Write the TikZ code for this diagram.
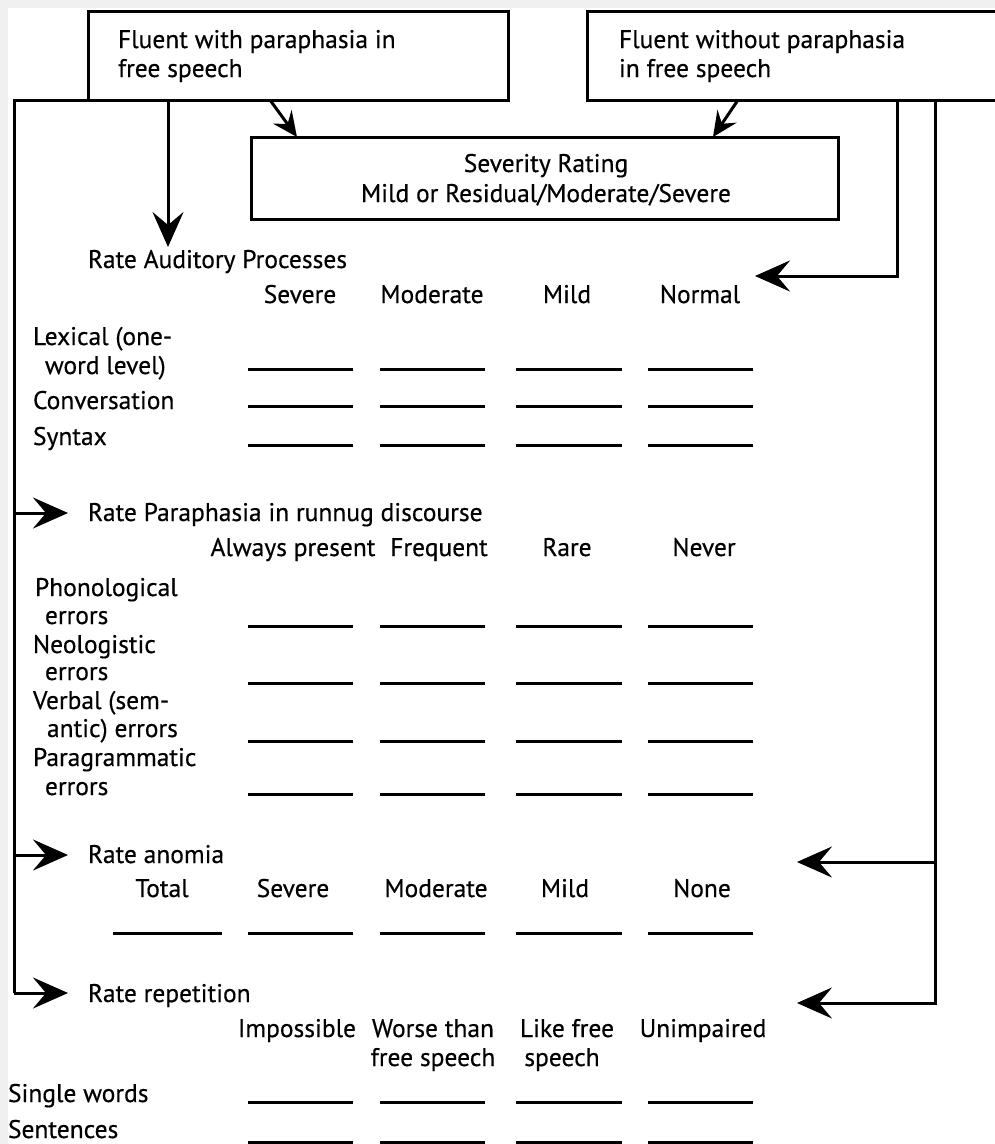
\documentclass[tikz,border=0pt]{standalone}
\usepackage{fontspec}
\setmainfont{PT Sans}[FakeBold=0.4]
\usetikzlibrary{arrows.meta}
\begin{document}
\begin{tikzpicture}[x=1pt,y=-1pt,
  every node/.style={inner sep=0pt, outer sep=0pt, font=\fontsize{25.5}{29}\selectfont},
  wire/.style={line width=3pt},
  bigarrow/.style={wire, -{Stealth[length=35pt,width=31pt,inset=13pt]}},
  smallarrow/.style={wire, -{Stealth[length=25pt,width=23pt,inset=9pt]}},
  blankline/.style={line width=3pt},
  frame/.style={draw, line width=3pt, anchor=north west},
  lbl/.style={anchor=base west},
  hdr/.style={anchor=base}]

% page background and frame of the sheet
\fill[black!6] (0,0) rectangle (995,1144);
\fill[white] (8,8) rectangle (995,1144);
\useasboundingbox (0,0) rectangle (995,1144);
\clip (0,0) rectangle (995,1144);

% ---------- boxes ----------
\node[frame, minimum width=420pt, minimum height=89pt] (withpar) at (88,11) {};
\node[frame, minimum width=430pt, minimum height=89pt] (withoutpar) at (587,11) {};
\node[frame, minimum width=587pt, minimum height=82pt] (severity) at (251,137) {};

\node[lbl] (wp1) at (118,48) {Fluent with paraphasia in};
\node[lbl] (wp2) at (118,77) {free speech};
\node[lbl] (wo1) at (619,48) {Fluent without paraphasia};
\node[lbl] (wo2) at (619,77) {in free speech};
\node[hdr] (sv1) at (546,172) {Severity Rating};
\node[hdr] (sv2) at (546,202) {Mild or Residual/Moderate/Severe};

% ---------- section titles ----------
\node[lbl] (tAud) at (88,268) {Rate Auditory Processes};
\node[lbl] (tPar) at (88,521) {Rate Paraphasia in runnug discourse};
\node[lbl] (tAno) at (88,863) {Rate anomia};
\node[lbl] (tRep) at (88,1002) {Rate repetition};

% ---------- connectors ----------
\coordinate (Ltop) at (14,100);
\coordinate (Lpar) at (14,513);
\coordinate (Lano) at (14,855);
\coordinate (Lrep) at (14,993);
\coordinate (Apar) at (68,513);
\coordinate (Aano) at (68,855);
\coordinate (Arep) at (68,993);
\draw[wire] (withpar.south west) -- (Ltop) -- (Lrep);
\draw[bigarrow] (Lpar) -- (Apar);
\draw[bigarrow] (Lano) -- (Aano);
\draw[bigarrow] (Lrep) -- (Arep);

\coordinate (Dstart) at (168,100);
\coordinate (Dtip) at (168,247);
\draw[bigarrow] (Dstart) -- (Dtip);

\coordinate (S1) at (270,100);
\coordinate (S1tip) at (297,137);
\coordinate (S2) at (738,100);
\coordinate (S2tip) at (713,137);
\draw[smallarrow] (S1) -- (S1tip);
\draw[smallarrow] (S2) -- (S2tip);

\coordinate (R1top) at (897,100);
\coordinate (R1bot) at (897,276);
\coordinate (R1tip) at (755,276);
\draw[bigarrow] (R1top) -- (R1bot) -- (R1tip);

\coordinate (R2top) at (935,100);
\coordinate (R2mid) at (935,862);
\coordinate (R2bot) at (935,1003);
\coordinate (R2tipA) at (797,862);
\coordinate (R2tipB) at (797,1003);
\draw[bigarrow] (R2top) -- (R2bot) -- (R2tipB);
\draw[bigarrow] (R2mid) -- (R2tipA);

% ---------- auditory processes ----------
\node[hdr] (a1) at (300,303) {Severe};
\node[hdr] (a2) at (432,303) {Moderate};
\node[hdr] (a3) at (567,303) {Mild};
\node[hdr] (a4) at (700,303) {Normal};
\node[lbl] (lex1) at (33,345) {Lexical (one-};
\node[lbl] (lex2) at (45,374) {word level)};
\node[lbl] (conv) at (33,409) {Conversation};
\node[lbl] (synt) at (33,445) {Syntax};

% ---------- paraphasia ----------
\node[hdr] (p1) at (293,556) {Always present};
\node[hdr] (p2) at (439,556) {Frequent};
\node[hdr] (p3) at (567,556) {Rare};
\node[hdr] (p4) at (704,556) {Never};
\node[lbl] (ph1) at (35,596) {Phonological};
\node[lbl] (ph2) at (45,624) {errors};
\node[lbl] (ne1) at (33,653) {Neologistic};
\node[lbl] (ne2) at (45,680) {errors};
\node[lbl] (ve1) at (33,709) {Verbal (sem-};
\node[lbl] (ve2) at (47,737) {antic) errors};
\node[lbl] (pg1) at (33,766) {Paragrammatic};
\node[lbl] (pg2) at (45,795) {errors};

% ---------- anomia ----------
\node[hdr] (n0) at (162,897) {Total};
\node[hdr] (n1) at (293,897) {Severe};
\node[hdr] (n2) at (436,897) {Moderate};
\node[hdr] (n3) at (565,897) {Mild};
\node[hdr] (n4) at (702,897) {None};

% ---------- repetition ----------
\node[hdr] (r1) at (297,1037) {Impossible};
\node[hdr] (r2a) at (433,1037) {Worse than};
\node[hdr] (r2b) at (433,1066) {free speech};
\node[hdr] (r3a) at (567,1037) {Like free};
\node[hdr] (r3b) at (562,1066) {speech};
\node[hdr] (r4) at (703,1037) {Unimpaired};
\node[lbl] (sw) at (8,1102) {Single words};
\node[lbl] (sen) at (8,1138) {Sentences};

% ---------- answer blanks ----------
\foreach \y in {369,406,445,626,683,741,794,933,1102,1142}{
  \foreach \xa/\xb in {248/353,380/485,516/622,648/753}{
    \draw[blankline] (\xa,\y) -- (\xb,\y);
  }
}
\draw[blankline] (113,933) -- (222,933);

\end{tikzpicture}
\end{document}
